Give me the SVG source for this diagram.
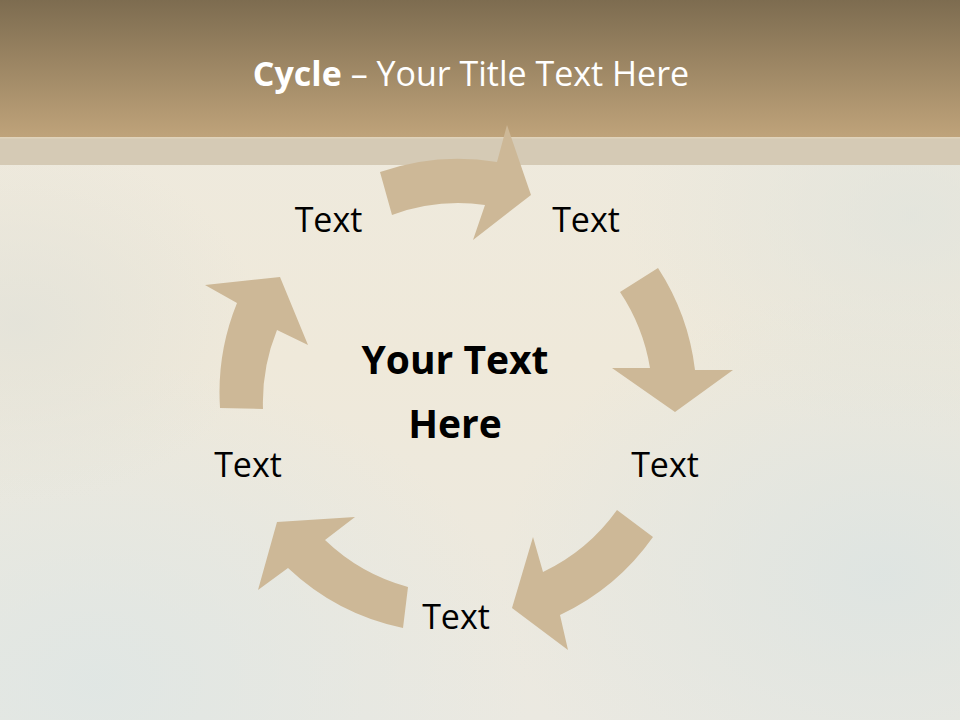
<svg xmlns="http://www.w3.org/2000/svg" width="960" height="720" viewBox="0 0 960 720">
  <defs>
    <linearGradient id="hdr" x1="0" y1="0" x2="0" y2="1">
      <stop offset="0" stop-color="#7d6c50"/>
      <stop offset="1" stop-color="#bfa37a"/>
    </linearGradient>
    <linearGradient id="bg" x1="0" y1="0" x2="0" y2="1">
      <stop offset="0" stop-color="#eeeadf"/>
      <stop offset="0.5" stop-color="#efe9da"/>
      <stop offset="1" stop-color="#ebe9e1"/>
    </linearGradient>
    <radialGradient id="tintBL" cx="0.1" cy="0.95" r="0.45">
      <stop offset="0" stop-color="#dfe6e4" stop-opacity="0.9"/>
      <stop offset="1" stop-color="#dfe6e4" stop-opacity="0"/>
    </radialGradient>
    <radialGradient id="tintBR" cx="0.92" cy="0.8" r="0.4">
      <stop offset="0" stop-color="#dde4e2" stop-opacity="0.9"/>
      <stop offset="1" stop-color="#dde4e2" stop-opacity="0"/>
    </radialGradient>
    <radialGradient id="tintTR" cx="0.95" cy="0.3" r="0.3">
      <stop offset="0" stop-color="#dfe3dd" stop-opacity="0.7"/>
      <stop offset="1" stop-color="#dfe3dd" stop-opacity="0"/>
    </radialGradient>
    <radialGradient id="tintL" cx="0.02" cy="0.45" r="0.25">
      <stop offset="0" stop-color="#e2e2d9" stop-opacity="0.8"/>
      <stop offset="1" stop-color="#e2e2d9" stop-opacity="0"/>
    </radialGradient>
  </defs>
  <style>
    .arrow { fill: #cdb897; }
    .lbl { font-family: "Open Sans", "Noto Sans", sans-serif; font-size: 34px; fill: #000000; text-anchor: middle; }
    .ctr { font-family: "Open Sans", "Noto Sans", sans-serif; font-size: 39px; font-weight: bold; fill: #000000; text-anchor: middle; }
    .ttl { font-family: "Open Sans", "Noto Sans", sans-serif; font-size: 34px; fill: #ffffff; text-anchor: middle; }
  </style>

  <g id="background">
    <rect x="0" y="0" width="960" height="720" fill="url(#bg)"/>
    <rect x="0" y="0" width="960" height="720" fill="url(#tintBL)"/>
    <rect x="0" y="0" width="960" height="720" fill="url(#tintBR)"/>
    <rect x="0" y="0" width="960" height="720" fill="url(#tintTR)"/>
    <rect x="0" y="0" width="960" height="720" fill="url(#tintL)"/>
    <rect x="0" y="0" width="960" height="137" fill="url(#hdr)"/>
    <rect x="0" y="137" width="960" height="28" fill="#d5cab5"/>
    <rect x="0" y="137" width="960" height="1.5" fill="#e0d3bb"/>
  </g>

  <g id="title">
    <text class="ttl" x="471" y="86"><tspan font-weight="bold">Cycle</tspan> – Your Title Text Here</text>
  </g>

  <g id="connectors">
    <path id="arrow-top" class="arrow" d="M 380,172 A 238 238 0 0 1 497,162 L 507,125 L 531,195 L 473,240 L 485,205 A 193 193 0 0 0 392,215 Z"/>
    <path id="arrow-right" class="arrow" d="M 658,268 A 238 238 0 0 1 695,370 L 733,370 L 675,412 L 612,368 L 650,368 A 193 193 0 0 0 620,292 Z"/>
    <path id="arrow-bottom-right" class="arrow" d="M 653,537 A 238 238 0 0 1 560,615 L 568,650 L 512,608 L 533,537 L 543,572 A 193 193 0 0 0 617,510 Z"/>
    <path id="arrow-bottom-left" class="arrow" d="M 403,628 A 238 238 0 0 1 288,568 L 258,590 L 277,522 L 355,517 L 325,540 A 193 193 0 0 0 408,587 Z"/>
    <path id="arrow-left" class="arrow" d="M 220,408 A 238 238 0 0 1 237,303 L 205,285 L 280,277 L 308,345 L 277,330 A 193 193 0 0 0 263,409 Z"/>
  </g>

  <g id="center">
    <text class="ctr" x="455" y="374">Your Text</text>
    <text class="ctr" x="455" y="438">Here</text>
  </g>
  <g id="node-1"><text class="lbl" x="328.5" y="232">Text</text></g>
  <g id="node-2"><text class="lbl" x="586" y="232">Text</text></g>
  <g id="node-3"><text class="lbl" x="665" y="477">Text</text></g>
  <g id="node-4"><text class="lbl" x="456" y="629">Text</text></g>
  <g id="node-5"><text class="lbl" x="248" y="477">Text</text></g>
</svg>
